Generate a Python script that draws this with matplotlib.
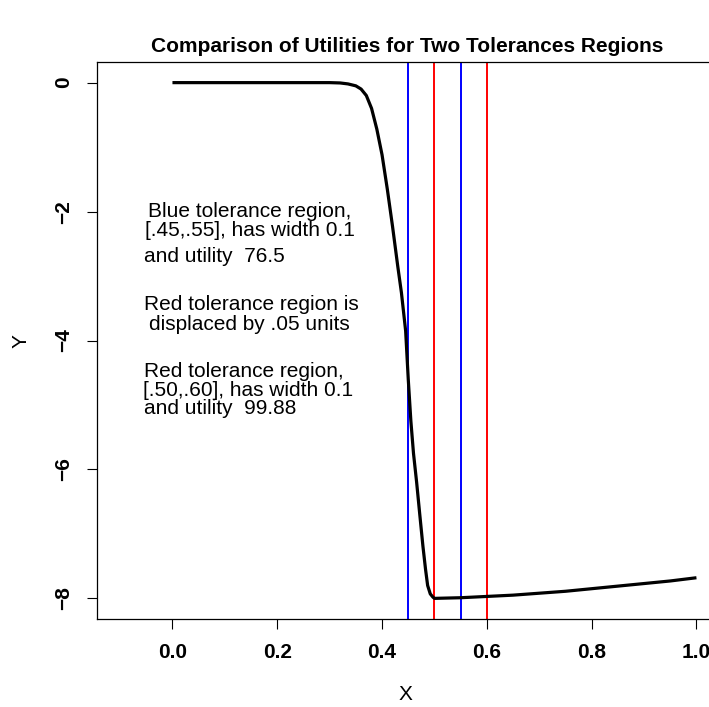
import matplotlib
matplotlib.use("Agg")
import matplotlib.pyplot as plt

plt.rcParams['font.family'] = ['Liberation Sans', 'DejaVu Sans']

# Utility curve
curve_x = [0.0, 0.1, 0.2, 0.3, 0.32, 0.335, 0.35, 0.36, 0.37, 0.38, 0.39, 0.40,
           0.41, 0.42, 0.43, 0.437, 0.445, 0.450, 0.455, 0.460, 0.466, 0.472,
           0.478, 0.483, 0.487, 0.492, 0.497, 0.500, 0.55, 0.60, 0.65, 0.70,
           0.75, 0.80, 0.85, 0.90, 0.95, 1.0]
curve_y = [0.0, 0.0, 0.0, 0.0, -0.005, -0.02, -0.05, -0.1, -0.2, -0.4, -0.72,
           -1.12, -1.65, -2.23, -2.85, -3.26, -3.85, -4.6, -5.25, -5.75, -6.2,
           -6.7, -7.19, -7.55, -7.8, -7.93, -7.98, -8.0, -7.99, -7.97, -7.95,
           -7.92, -7.89, -7.85, -7.81, -7.77, -7.73, -7.68]

blue_bounds = [0.45, 0.55]
red_bounds = [0.50, 0.60]

x_ticks = [0.0, 0.2, 0.4, 0.6, 0.8, 1.0]
x_tick_labels = ["0.0", "0.2", "0.4", "0.6", "0.8", "1.0"]
y_ticks = [0, -2, -4, -6, -8]
y_tick_labels = ["0", "\u22122", "\u22124", "\u22126", "\u22128"]

annotations = [
    (0.147, -2.00, "Blue tolerance region,"),
    (0.147, -2.29, "[.45,.55], has width 0.1"),
    (0.080, -2.70, "and utility  76.5"),
    (0.151, -3.44, "Red tolerance region is"),
    (0.147, -3.75, "displaced by .05 units"),
    (0.136, -4.48, "Red tolerance region,"),
    (0.145, -4.78, "[.50,.60], has width 0.1"),
    (0.092, -5.05, "and utility  99.88"),
]

W, H = 709, 707
fig = plt.figure(figsize=(W / 100, H / 100), dpi=100)
left, right, top, bottom = 97, 719.5, 62, 619
ax = fig.add_axes([left / W, 1 - bottom / H, (right - left) / W, (bottom - top) / H])

ax.plot(curve_x, curve_y, color='black', lw=2.3, solid_capstyle='butt',
        solid_joinstyle='round', zorder=3)
for xv in blue_bounds:
    ax.axvline(xv, color='blue', lw=1.4, zorder=2)
for xv in red_bounds:
    ax.axvline(xv, color='red', lw=1.4, zorder=2)

for tx, ty, s in annotations:
    ax.text(tx, ty, s, ha='center', va='center', fontsize=15)

ax.set_xlim(-0.144, 1.044)
ax.set_ylim(-8.32, 0.32)

ax.set_xticks(x_ticks)
ax.set_xticklabels(x_tick_labels, fontweight='bold', fontsize=15)
ax.set_yticks(y_ticks)
ax.set_yticklabels(y_tick_labels, fontweight='bold', fontsize=15,
                   rotation=90, va='center')
ax.tick_params(axis='both', length=7, width=0.8, direction='out')
ax.tick_params(axis='x', pad=10)
ax.tick_params(axis='y', pad=10)
for sp in ax.spines.values():
    sp.set_linewidth(0.9)

ax.set_xlabel("X", fontsize=15)
ax.xaxis.set_label_coords((405 - left) / (right - left), (bottom - 695) / (bottom - top))
ax.xaxis.label.set_va('center')
ax.set_ylabel("Y", fontsize=15)
ax.yaxis.set_label_coords((21 - left) / (right - left), (bottom - 341) / (bottom - top))
ax.yaxis.label.set_va('center')

fig.text(407 / W, 1 - 47 / H, "Comparison of Utilities for Two Tolerances Regions",
         ha='center', va='center', fontweight='bold', fontsize=15)

fig.savefig("out.png", dpi=100)
